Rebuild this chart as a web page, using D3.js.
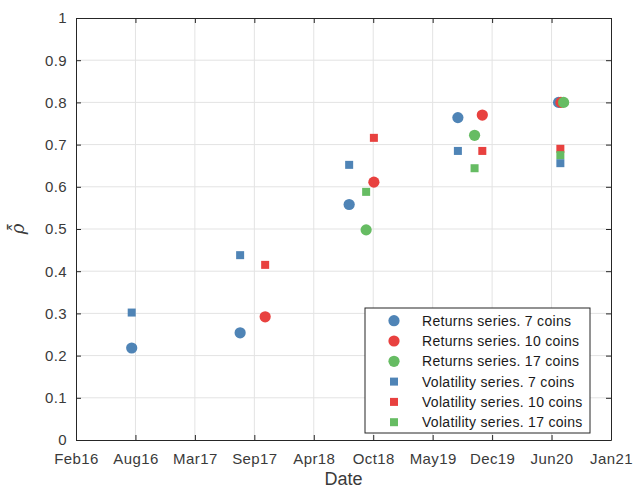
<!DOCTYPE html>
<html>
<head>
<meta charset="utf-8">
<script src="https://cdn.jsdelivr.net/npm/d3@7"></script>
<style>
  body { margin: 0; background: #fff; }
  svg { display: block; font-family: "Liberation Sans", Arial, sans-serif; }
</style>
</head>
<body>
<div id="chart"></div>
<script>
// x axis: evenly spaced date ticks
const xStart = "2016-02-01";
const xEnd = "2021-01-01";
const xTickLabels = ["Feb16", "Aug16", "Mar17", "Sep17", "Apr18", "Oct18", "May19", "Dec19", "Jun20", "Jan21"];
const yTicks = [0, 0.1, 0.2, 0.3, 0.4, 0.5, 0.6, 0.7, 0.8, 0.9, 1];

// returns series (circles)
const retDates7 = ["2016-08-06", "2017-08-05", "2018-08-06", "2019-08-06", "2020-07-09"];
const ret7 = [0.218, 0.254, 0.558, 0.764, 0.800];
const retDates10 = ["2017-10-28", "2018-10-28", "2019-10-27", "2020-07-17"];
const ret10 = [0.292, 0.611, 0.770, 0.800];
const retDates17 = ["2018-10-02", "2019-10-01", "2020-07-26"];
const ret17 = [0.498, 0.722, 0.800];

// volatility series (squares)
const volDates7 = ["2016-08-06", "2017-08-05", "2018-08-06", "2019-08-06", "2020-07-15"];
const vol7 = [0.302, 0.438, 0.652, 0.685, 0.656];
const volDates10 = ["2017-10-28", "2018-10-28", "2019-10-27", "2020-07-15"];
const vol10 = [0.415, 0.716, 0.685, 0.690];
const volDates17 = ["2018-10-02", "2019-10-01", "2020-07-15"];
const vol17 = [0.588, 0.644, 0.675];

const seriesNames = [
  "Returns series. 7 coins", "Returns series. 10 coins", "Returns series. 17 coins",
  "Volatility series. 7 coins", "Volatility series. 10 coins", "Volatility series. 17 coins"
];

const COLORS = { blue: "#4f84b6", red: "#e8413f", green: "#66bc63" };

const W = 633, H = 492;
const MARGIN = { TOP: 18, BOTTOM: 52, LEFT: 76, RIGHT: 22 };
const WIDTH = W - MARGIN.LEFT - MARGIN.RIGHT;
const HEIGHT = H - MARGIN.TOP - MARGIN.BOTTOM;

const parse = d3.timeParse("%Y-%m-%d");

const series = [
  { name: seriesNames[0], shape: "circle", color: COLORS.blue, dates: retDates7, vals: ret7 },
  { name: seriesNames[1], shape: "circle", color: COLORS.red, dates: retDates10, vals: ret10 },
  { name: seriesNames[2], shape: "circle", color: COLORS.green, dates: retDates17, vals: ret17 },
  { name: seriesNames[3], shape: "square", color: COLORS.blue, dates: volDates7, vals: vol7 },
  { name: seriesNames[4], shape: "square", color: COLORS.red, dates: volDates10, vals: vol10 },
  { name: seriesNames[5], shape: "square", color: COLORS.green, dates: volDates17, vals: vol17 }
];

const svg = d3.select("#chart").append("svg")
  .attr("width", W)
  .attr("height", H);

const g = svg.append("g")
  .attr("transform", `translate(${MARGIN.LEFT}, ${MARGIN.TOP})`);

const x = d3.scaleTime()
  .domain([parse(xStart), parse(xEnd)])
  .range([0, WIDTH]);

const y = d3.scaleLinear()
  .domain([0, 1])
  .range([HEIGHT, 0]);

// ticks spread evenly over the time range
const t0 = x.domain()[0].getTime(), t1 = x.domain()[1].getTime();
const xTicks = xTickLabels.map((_, i) => new Date(t0 + i * (t1 - t0) / (xTickLabels.length - 1)));

// grid
g.append("g")
  .selectAll("line.vg")
  .data(xTicks.slice(1, -1))
  .join("line")
    .attr("x1", d => x(d)).attr("x2", d => x(d))
    .attr("y1", 0).attr("y2", HEIGHT)
    .attr("stroke", "#e3e3e3");

g.append("g")
  .selectAll("line.hg")
  .data(yTicks.slice(1, -1))
  .join("line")
    .attr("x1", 0).attr("x2", WIDTH)
    .attr("y1", d => y(d)).attr("y2", d => y(d))
    .attr("stroke", "#e3e3e3");

// axes
const axisColor = "#262626";
const xAxis = g.append("g")
  .attr("transform", `translate(0, ${HEIGHT})`)
  .call(d3.axisBottom(x).tickValues(xTicks).tickSizeInner(-5).tickSizeOuter(0).tickPadding(13)
    .tickFormat((d, i) => xTickLabels[i]));

const yAxis = g.append("g")
  .call(d3.axisLeft(y).tickValues(yTicks).tickSizeInner(-5).tickSizeOuter(0).tickPadding(9)
    .tickFormat(d => d3.format("")(+d.toFixed(1))));

const xTop = g.append("g")
  .call(d3.axisTop(x).tickValues(xTicks).tickSizeInner(-5).tickSizeOuter(0).tickFormat(""));
const yRight = g.append("g")
  .attr("transform", `translate(${WIDTH}, 0)`)
  .call(d3.axisRight(y).tickValues(yTicks).tickSizeInner(-5).tickSizeOuter(0).tickFormat(""));

[xAxis, yAxis, xTop, yRight].forEach(a => {
  a.select(".domain").attr("stroke", axisColor).attr("stroke-width", 1);
  a.selectAll(".tick line").attr("stroke", axisColor);
  a.selectAll(".tick text")
    .attr("fill", "#3a3a3a")
    .attr("font-size", 15)
    .attr("letter-spacing", 0.4)
    .attr("font-family", "'Liberation Sans', Arial, sans-serif");
});

// axis labels
g.append("text")
  .attr("x", WIDTH / 2)
  .attr("y", HEIGHT + 45)
  .attr("text-anchor", "middle")
  .attr("font-size", 18)
  .attr("fill", "#3a3a3a")
  .text("Date");

g.append("text")
  .attr("transform", `translate(${-52}, ${HEIGHT / 2}) rotate(-90)`)
  .attr("text-anchor", "middle")
  .attr("font-size", 18)
  .attr("font-style", "italic")
  .attr("font-family", "'DejaVu Serif', serif")
  .attr("fill", "#3a3a3a")
  .text("\u03C1\u0302\u0304");

// points
const CIRCLE_R = 5.6, SQ = 8;
series.forEach(s => {
  const pts = s.dates.map((d, i) => ({ date: parse(d), v: s.vals[i] }));
  if (s.shape === "circle") {
    g.append("g").selectAll("circle")
      .data(pts)
      .join("circle")
        .attr("cx", d => x(d.date))
        .attr("cy", d => y(d.v))
        .attr("r", CIRCLE_R)
        .attr("fill", s.color);
  } else {
    g.append("g").selectAll("rect")
      .data(pts)
      .join("rect")
        .attr("x", d => x(d.date) - SQ / 2)
        .attr("y", d => y(d.v) - SQ / 2)
        .attr("width", SQ)
        .attr("height", SQ)
        .attr("fill", s.color);
  }
});

// legend
const legend = svg.append("g")
  .attr("transform", "translate(365, 308)");

legend.append("rect")
  .attr("width", 225)
  .attr("height", 125)
  .attr("fill", "#fff")
  .attr("stroke", axisColor);

const rows = legend.selectAll("g.row")
  .data(series)
  .join("g")
    .attr("transform", (d, i) => `translate(0, ${12.7 + i * 20.3})`);

rows.each(function(s) {
  const r = d3.select(this);
  if (s.shape === "circle") {
    r.append("circle").attr("cx", 29).attr("cy", 0).attr("r", CIRCLE_R).attr("fill", s.color);
  } else {
    r.append("rect").attr("x", 29 - SQ / 2).attr("y", -SQ / 2)
      .attr("width", SQ).attr("height", SQ).attr("fill", s.color);
  }
  r.append("text")
    .attr("x", 57)
    .attr("y", 5)
    .attr("font-size", 14)
    .attr("letter-spacing", 0.3)
    .attr("fill", "#1a1a1a")
    .text(s.name);
});
</script>
</body>
</html>
